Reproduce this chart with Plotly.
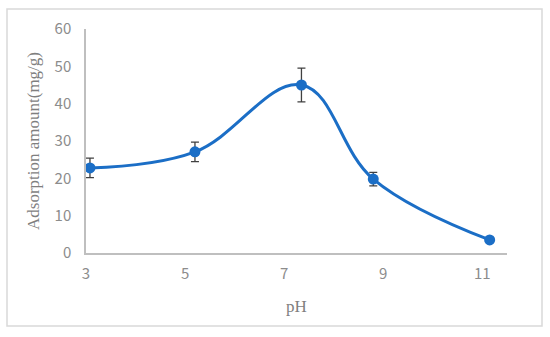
import plotly.graph_objects as go

# 데이터
ph = [3.08, 5.2, 7.35, 8.8, 11.15]
amount = [22.8, 27.1, 45.0, 19.8, 3.5]
err = [2.6, 2.6, 4.5, 1.8, 0.0]
x_ticks = [3, 5, 7, 9, 11]
y_ticks = [0, 10, 20, 30, 40, 50, 60]

blue = '#1b6ec6'
grey_txt = '#8c8c8c'
tick_font = dict(family='Noto Sans CJK JP', size=15, color=grey_txt)
title_font = dict(family='Liberation Serif', size=17, color='#7f7f7f')

W, H = 550, 337
L, R, T, B = 86, 43, 29, 84

fig = go.Figure()
fig.add_trace(go.Scatter(
    x=ph, y=amount, mode='lines+markers',
    line=dict(color=blue, width=3, shape='spline', smoothing=1.1),
    marker=dict(color=blue, size=11),
    error_y=dict(type='data', array=err, color='#404040', thickness=1.3, width=4),
    showlegend=False,
))

# 바깥 테두리 (paper 좌표)
pw, ph_ = W - L - R, H - T - B
fig.add_shape(type='rect', xref='paper', yref='paper',
              x0=(7 - L) / pw, x1=(542 - L) / pw,
              y0=(H - B - 326) / ph_, y1=(H - B - 9) / ph_,
              line=dict(color='#d9d9d9', width=1.5))

fig.update_xaxes(range=[3, 11.5], tickvals=x_ticks, ticktext=[str(v) for v in x_ticks],
                 showgrid=False, zeroline=False, showline=True, linecolor='#bfbfbf', linewidth=1.5,
                 ticks='outside', tickcolor='rgba(0,0,0,0)', ticklen=6, automargin=False,
                 tickfont=tick_font,
                 title=dict(text='pH', font=title_font, standoff=18))
fig.update_yaxes(range=[0, 60], tickvals=y_ticks,
                 showgrid=False, zeroline=False, showline=True, linecolor='#bfbfbf', linewidth=1.5,
                 ticks='outside', tickcolor='rgba(0,0,0,0)', ticklen=10, automargin=False,
                 tickfont=tick_font,
                 title=dict(text='Adsorption amount(mg/g)', font=title_font, standoff=11))
fig.update_layout(width=W, height=H, margin=dict(l=L, r=R, t=T, b=B),
                  plot_bgcolor='white', paper_bgcolor='white')
# 브라우저 기본 body 여백 제거
fig.write_html("out.html", config=dict(displayModeBar=False),
               post_script="document.body.style.margin='0';")
